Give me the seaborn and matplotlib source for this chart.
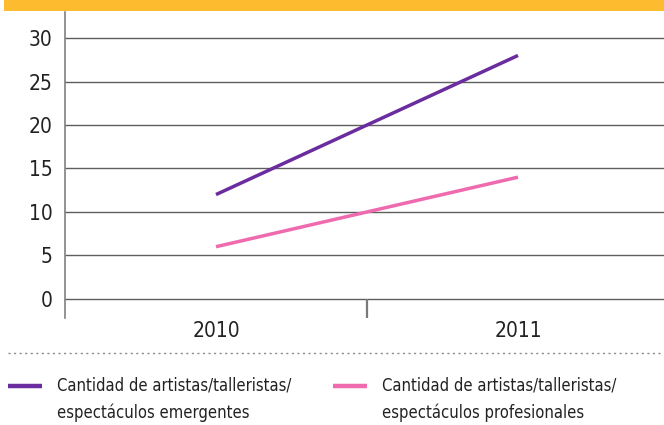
import matplotlib
matplotlib.use("Agg")
import matplotlib.pyplot as plt
from matplotlib.lines import Line2D
from matplotlib.patches import Rectangle
import seaborn as sns
import pandas as pd

years = ["2010", "2011"]
emergentes = [12, 28]
profesionales = [6, 14]
series_names = [
    "Cantidad de artistas/talleristas/\nespectáculos emergentes",
    "Cantidad de artistas/talleristas/\nespectáculos profesionales",
]
colors = ["#6a2c9e", "#ef6aae"]
y_ticks = [0, 5, 10, 15, 20, 25, 30]

sns.set_theme(style="white")
plt.rcParams["font.family"] = ["DejaVu Sans"]
plt.rcParams["font.stretch"] = "condensed"
text_color = "#222222"
grid_color = "#5e5e5e"

W, H = 664, 425
fig = plt.figure(figsize=(W / 100, H / 100), dpi=100)

def fx(px):
    return px / W

def fy(py):
    return 1 - py / H

ax = fig.add_axes([fx(65), fy(318), fx(669) - fx(65), fy(12) - fy(318)])

rows = []
for name, vals in zip(series_names, [emergentes, profesionales]):
    for i, v in enumerate(vals):
        rows.append({"pos": i + 0.5, "valor": v, "serie": name})
df = pd.DataFrame(rows)

sns.lineplot(data=df, x="pos", y="valor", hue="serie", palette=colors,
             linewidth=2.5, ax=ax, legend=False, zorder=3,
             solid_capstyle="butt")

ax.set_xlim(0, 2)
ax.set_ylim(-2.2, 33)
ax.set_yticks(y_ticks)
ax.set_yticklabels([str(t) for t in y_ticks])
ax.set_xticks([0.5, 1.5])
ax.set_xticklabels(years)
ax.set_xlabel("")
ax.set_ylabel("")
for t in y_ticks:
    ax.axhline(t, color=grid_color, linewidth=1.0, zorder=1)
# divider between the two year bands
ax.vlines(1, -2.2, 0, color="#7a7a7a", linewidth=1.6, zorder=1)

for s in ["top", "right", "bottom"]:
    ax.spines[s].set_visible(False)
ax.spines["left"].set_color("#808080")
ax.spines["left"].set_linewidth(1.2)

ax.tick_params(axis="y", length=0, pad=9, labelsize=15, labelcolor=text_color)
ax.tick_params(axis="x", length=0, pad=2, labelsize=15, labelcolor=text_color)

# yellow band at the top
fig.add_artist(Rectangle((fx(4), fy(11)), 1 - fx(4), fy(0) - fy(11),
                         transform=fig.transFigure, color="#fdbb30", lw=0))

# dotted separator
fig.add_artist(Line2D([fx(8), fx(664)], [fy(353), fy(353)],
                      transform=fig.transFigure, color="#8a8a8a",
                      linewidth=1.0, linestyle=(0, (1.5, 2.5))))

# legend
legend_x = [(8, 42, 57), (333, 367, 382)]
for (x0, x1, xt), name, c in zip(legend_x, series_names, colors):
    fig.add_artist(Line2D([fx(x0), fx(x1)], [fy(386), fy(386)],
                          transform=fig.transFigure, color=c, linewidth=3.2,
                          solid_capstyle="butt"))
    first, second = name.split("\n")
    fig.text(fx(xt), fy(386), first, fontsize=11.9, color=text_color,
             va="center", ha="left")
    fig.text(fx(xt), fy(413), second, fontsize=11.9, color=text_color,
             va="center", ha="left")

fig.savefig("out.png", dpi=100)
